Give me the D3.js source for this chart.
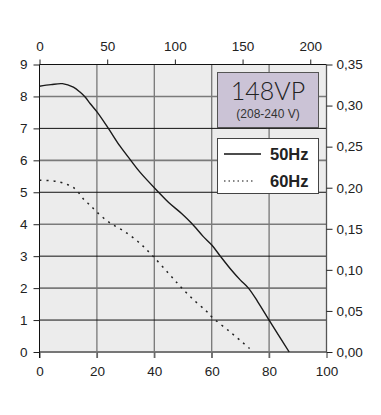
<!DOCTYPE html>
<html><head><meta charset="utf-8">
<script src="https://cdn.jsdelivr.net/npm/d3@7"></script>
<style>body{margin:0;background:#fff}svg{display:block}text{font-family:"Liberation Sans",Arial,sans-serif}</style>
</head><body>
<script>
const bottomTicks=[0,20,40,60,80,100];
const topTicks=[0,50,100,150,200];
const leftTicks=[0,1,2,3,4,5,6,7,8,9];
const rightTicks=[0,0.05,0.10,0.15,0.20,0.25,0.30,0.35];
const rightLabels=["0,00","0,05","0,10","0,15","0,20","0,25","0,30","0,35"];
const series50=[[0,8.32],[4,8.37],[8,8.4],[11.8,8.29],[14.2,8.13],[15.9,7.98],[17.7,7.77],[20.1,7.51],[24,7.0],[28,6.45],[31.8,6.0],[35,5.63],[41.5,5.0],[45,4.68],[49.6,4.33],[53,4.03],[57,3.62],[60.1,3.34],[63,3.0],[67,2.55],[70,2.25],[72.8,2.0],[76,1.58],[80,1.0],[83.5,0.5],[87,0]];
const series60=[[0,5.38],[4,5.36],[7,5.32],[9.5,5.25],[11.5,5.17],[13.5,5.0],[15.5,4.77],[17.7,4.59],[20,4.38],[24.4,4.05],[29.5,3.78],[34.8,3.42],[39.2,3.03],[45,2.46],[49,2.06],[53.4,1.66],[58,1.29],[60,1.1],[66.4,0.63],[70.9,0.29],[73.2,0.11]];
const legendNames=["50Hz","60Hz"];
const titleText="148VP", subText="(208-240 V)";

const W=381,H=415;
const svg=d3.select("body").append("svg").attr("width",W).attr("height",H);
const x=d3.scaleLinear([0,100],[39.5,326.5]);
const xTop=d3.scaleLinear([0,212],[39.5,326.5]);
const y=d3.scaleLinear([0,9],[352,64.5]);
const yR=d3.scaleLinear([0,0.35],[352,64.5]);

svg.append("rect").attr("x",x(0)).attr("y",y(9)).attr("width",x(100)-x(0)).attr("height",y(0)-y(9)).attr("fill","#ececec");

svg.selectAll(".vg").data(bottomTicks.filter(d=>d>0&&d<100)).join("line")
 .attr("x1",d=>x(d)).attr("x2",d=>x(d)).attr("y1",y(9)).attr("y2",y(0)+6)
 .attr("stroke","#777").attr("stroke-width",1.3);
svg.selectAll(".hg").data(leftTicks.filter(d=>d>0&&d<9)).join("line")
 .attr("x1",x(0)).attr("x2",x(100)).attr("y1",d=>y(d)).attr("y2",d=>y(d))
 .attr("stroke",d=>d%2? "#111":"#7a7a7a").attr("stroke-width",d=>d%2?1:1.6);

const fs="13.5px";
const gB=svg.append("g").attr("transform",`translate(0,${y(0)})`)
 .call(d3.axisBottom(x).tickValues(bottomTicks).tickSize(6).tickPadding(8));
const gT=svg.append("g").attr("transform",`translate(0,${y(9)})`)
 .call(d3.axisTop(xTop).tickValues(topTicks).tickSize(5).tickPadding(9));
const gL=svg.append("g").attr("transform",`translate(${x(0)},0)`)
 .call(d3.axisLeft(y).tickValues(leftTicks).tickSize(6).tickPadding(6));
const gR=svg.append("g").attr("transform",`translate(${x(100)},0)`)
 .call(d3.axisRight(yR).tickValues(rightTicks).tickFormat((d,i)=>rightLabels[i]).tickSize(6).tickPadding(4));
[gB,gT,gL,gR].forEach(g=>{
 g.selectAll("text").attr("font-size",fs).attr("fill","#222").style("font-family","'Liberation Sans',Arial,sans-serif");
 g.selectAll("line").attr("stroke","#222");
});
gB.select(".domain").attr("stroke","#777").attr("stroke-width",2);
gB.selectAll(".tick line").attr("stroke","#666").attr("stroke-width",1.3);
gT.select(".domain").attr("stroke","#111");
gL.select(".domain").attr("stroke","#111");
gR.select(".domain").attr("stroke","#555").attr("stroke-width",1.3);
gB.select(".domain").attr("d",`M${x(0)},0H${x(100)}`);
gT.select(".domain").attr("d",`M${x(0)},0H${x(100)}`);
gL.select(".domain").attr("d",`M0,${y(9)}V${y(0)+6}`);
gR.select(".domain").attr("d",`M0,${y(9)}V${y(0)}`);

const line=d3.line().x(d=>x(d[0])).y(d=>y(d[1])).curve(d3.curveCatmullRom.alpha(0.5));
svg.append("path").attr("d",line(series50)).attr("fill","none").attr("stroke","#1a1a1a").attr("stroke-width",1.4);
svg.append("path").attr("d",line(series60)).attr("fill","none").attr("stroke","#222").attr("stroke-width",1.5).attr("stroke-dasharray","2,5");

svg.append("rect").attr("x",217.5).attr("y",72.5).attr("width",101).attr("height",55).attr("fill","#cbc3d6").attr("stroke","#555");
svg.append("text").attr("x",268).attr("y",100).attr("text-anchor","middle").attr("font-size","25px").attr("font-weight",300)
 .style("font-family","Lato,'Open Sans',sans-serif").attr("fill","#222").text(titleText);
svg.append("text").attr("x",268).attr("y",118).attr("text-anchor","middle").attr("font-size","12px")
 .style("font-family","'Liberation Sans',Arial,sans-serif").attr("fill","#333").text(subText);

svg.append("rect").attr("x",217.5).attr("y",138.5).attr("width",101).attr("height",55).attr("fill","#fff").attr("stroke","#444");
const lg=svg.append("g");
lg.append("line").attr("x1",224).attr("x2",261).attr("y1",154).attr("y2",154).attr("stroke","#111").attr("stroke-width",1.5);
lg.append("line").attr("x1",224).attr("x2",254).attr("y1",181).attr("y2",181).attr("stroke","#111").attr("stroke-width",1.2).attr("stroke-dasharray","1.5,3");
lg.selectAll("text").data(legendNames).join("text").attr("x",270).attr("y",(d,i)=>160+i*27)
 .attr("font-size","16.5px").attr("font-weight","bold").attr("fill","#222")
 .style("font-family","'Liberation Sans',Arial,sans-serif").text(d=>d);
</script>
</body></html>
